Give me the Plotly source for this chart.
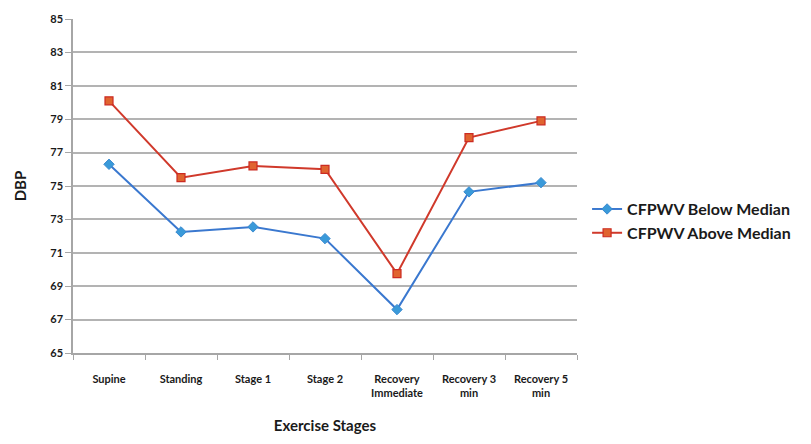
import plotly.graph_objects as go

# Exercise stages on the x axis
stages = ["Supine", "Standing", "Stage 1", "Stage 2",
          "Recovery<br>Immediate", "Recovery 3<br>min", "Recovery 5<br>min"]

# Mean diastolic blood pressure per stage, split by carotid-femoral PWV median
dbp_below = [76.3, 72.25, 72.55, 71.85, 67.6, 74.65, 75.2]
dbp_above = [80.1, 75.5, 76.2, 76.0, 69.75, 77.9, 78.9]

y_ticks = [65, 67, 69, 71, 73, 75, 77, 79, 81, 83, 85]

FONT = "Lato, Open Sans, sans-serif"

fig = go.Figure()
fig.add_trace(go.Scatter(
    x=stages, y=dbp_below, name="CFPWV Below Median", mode="lines+markers",
    line=dict(color="#3a78cf", width=2),
    marker=dict(symbol="diamond", size=8, color="#3a9ad9",
                line=dict(color="#3a8ad0", width=1)),
))
fig.add_trace(go.Scatter(
    x=stages, y=dbp_above, name="CFPWV Above Median", mode="lines+markers",
    line=dict(color="#d0392b", width=2),
    marker=dict(symbol="square", size=8, color="#e0642f",
                line=dict(color="#cc2b22", width=1.2)),
))

fig.update_layout(
    width=811, height=444,
    margin=dict(l=73, r=234, t=14, b=90),
    paper_bgcolor="white", plot_bgcolor="white",
    font=dict(family=FONT, size=11, color="#1a1a1a"),
    legend=dict(x=1.02, y=0.395, xanchor="left", yanchor="middle",
                font=dict(family=FONT, size=16, color="#1a1a1a", weight="bold"),
                tracegroupgap=2, bgcolor="rgba(0,0,0,0)", itemwidth=30),
    xaxis=dict(
        type="category", range=[-0.5, 6.5],
        showgrid=False, showline=True, linecolor="#a6a6a6", linewidth=1.5,
        ticks="outside", tickson="boundaries", ticklen=5, tickcolor="#a6a6a6",
        tickfont=dict(family=FONT, size=11, color="#1a1a1a", weight="bold"),
        title=dict(text="<b>Exercise Stages</b>", standoff=22,
                   font=dict(family=FONT, size=15, color="#1a1a1a")),
        ticklabelstandoff=15,
    ),
    yaxis=dict(
        range=[65, 85], tickvals=y_ticks,
        showgrid=True, gridcolor="#b3b3b3", gridwidth=1.5,
        showline=True, linecolor="#a6a6a6", linewidth=1.5,
        ticks="outside", ticklen=6, tickcolor="#a6a6a6",
        tickfont=dict(family=FONT, size=11, color="#1a1a1a", weight="bold"),
        title=dict(text="<b>DBP</b>", standoff=20,
                   font=dict(family=FONT, size=15, color="#1a1a1a")),
        zeroline=False,
    ),
)

fig.write_html("out.html")
